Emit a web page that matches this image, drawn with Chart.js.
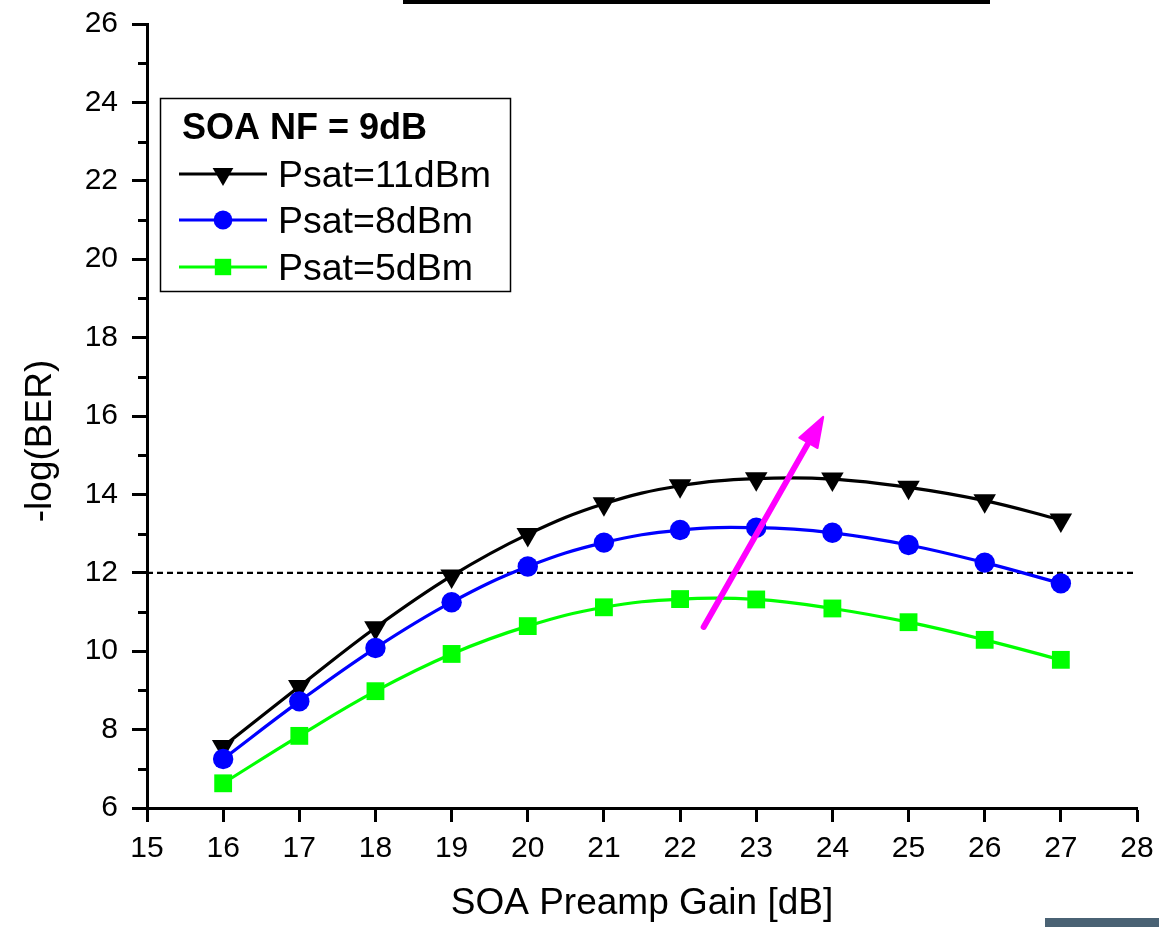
<!DOCTYPE html>
<html>
<head>
<meta charset="utf-8">
<script src="https://cdn.jsdelivr.net/npm/chart.js@4.4.0/dist/chart.umd.min.js"></script>
<style>
  html, body { margin: 0; padding: 0; background: #fff; }
  #wrap { position: relative; width: 1159px; height: 927px; overflow: hidden; }
  canvas { display: block; }
  .top-rule { position: absolute; left: 403px; top: 0; width: 587px; height: 4px; background: #000; }
  .corner-bar { position: absolute; left: 1045px; top: 918px; width: 114px; height: 9px; background: #4a6274; }
</style>
</head>
<body>
<div id="wrap">
  <canvas id="chart" width="1159" height="927"></canvas>
  <div class="top-rule"></div>
  <div class="corner-bar"></div>
</div>
<script>
// SOA preamplifier gain sweep (dB)
const gains = [16, 17, 18, 19, 20, 21, 22, 23, 24, 25, 26, 27];

// -log(BER) for each saturation power
const psat11 = [7.57, 9.10, 10.60, 11.92, 12.98, 13.76, 14.22, 14.40, 14.39, 14.18, 13.84, 13.35];
const psat8  = [7.25, 8.72, 10.08, 11.25, 12.16, 12.77, 13.09, 13.15, 13.02, 12.71, 12.26, 11.73];
const psat5  = [6.63, 7.84, 8.98, 9.93, 10.64, 11.12, 11.33, 11.32, 11.09, 10.74, 10.29, 9.78];

const seriesLabels = ['Psat=11dBm', 'Psat=8dBm', 'Psat=5dBm'];
const legendTitle = 'SOA NF = 9dB';

// FEC threshold reference level
const berThreshold = 12;

// axis ranges and labels
const xRange = [15, 28];
const yRange = [6, 26];
const xTickLabels = [15, 16, 17, 18, 19, 20, 21, 22, 23, 24, 25, 26, 27, 28];
const yTickLabels = [6, 8, 10, 12, 14, 16, 18, 20, 22, 24, 26];
const yMinorTicks = [7, 9, 11, 13, 15, 17, 19, 21, 23, 25];
const xTitle = 'SOA Preamp Gain [dB]';
const yTitle = '-log(BER)';

// trend arrow (in data units: gain, -log(BER))
const arrowStart = [22.31, 10.62];
const arrowEnd = [23.88, 15.98];

const FONT = "'Liberation Sans', Arial, Helvetica, sans-serif";

const toPoints = (ys) => gains.map((g, i) => ({ x: g, y: ys[i] }));

const datasets = [
  {
    label: 'threshold',
    data: [{ x: xRange[0], y: berThreshold }, { x: xRange[1], y: berThreshold }],
    borderColor: '#000',
    borderWidth: 2.2,
    borderDash: [6, 4],
    pointRadius: 0,
    tension: 0,
    order: 10
  },
  {
    label: seriesLabels[0],
    data: toPoints(psat11),
    borderColor: '#000',
    backgroundColor: '#000',
    borderWidth: 3.2,
    pointStyle: 'triangle',
    pointRotation: 180,
    pointRadius: 13,
    pointBorderWidth: 0,
    tension: 0.4,
    order: 3
  },
  {
    label: seriesLabels[1],
    data: toPoints(psat8),
    borderColor: '#0000ff',
    backgroundColor: '#0000ff',
    borderWidth: 3.2,
    pointStyle: 'circle',
    pointRadius: 10.2,
    pointBorderWidth: 0,
    tension: 0.4,
    order: 2
  },
  {
    label: seriesLabels[2],
    data: toPoints(psat5),
    borderColor: '#00ff00',
    backgroundColor: '#00ff00',
    borderWidth: 3.2,
    pointStyle: 'rect',
    pointRadius: 12.6,
    pointBorderWidth: 0,
    tension: 0.4,
    order: 1
  }
];

// minor y ticks, y axis title, trend arrow and the boxed legend
const overlayPlugin = {
  id: 'overlay',
  afterDraw(chart) {
    const { ctx, chartArea, scales } = chart;
    const xs = scales.x, ys = scales.y;

    // minor ticks on the y axis
    ctx.save();
    ctx.strokeStyle = '#000';
    ctx.lineWidth = 3;
    yMinorTicks.forEach(v => {
      const py = Math.round(ys.getPixelForValue(v)) + 0.5;
      ctx.beginPath();
      ctx.moveTo(chartArea.left - 9, py);
      ctx.lineTo(chartArea.left, py);
      ctx.stroke();
    });
    ctx.restore();

    // y axis title
    ctx.save();
    ctx.translate(51, 441);
    ctx.rotate(-Math.PI / 2);
    ctx.font = '37px ' + FONT;
    ctx.fillStyle = '#000';
    ctx.textAlign = 'center';
    ctx.textBaseline = 'alphabetic';
    ctx.fillText(yTitle, 0, 0);
    ctx.restore();

    // magenta arrow
    const x0 = xs.getPixelForValue(arrowStart[0]), y0 = ys.getPixelForValue(arrowStart[1]);
    const x1 = xs.getPixelForValue(arrowEnd[0]), y1 = ys.getPixelForValue(arrowEnd[1]);
    const ang = Math.atan2(y1 - y0, x1 - x0);
    const headLen = 30, headHalf = 10.5;
    const bx = x1 - Math.cos(ang) * headLen, by = y1 - Math.sin(ang) * headLen;
    ctx.save();
    ctx.strokeStyle = '#ff00ff';
    ctx.fillStyle = '#ff00ff';
    ctx.lineWidth = 6;
    ctx.lineCap = 'round';
    ctx.lineJoin = 'round';
    ctx.beginPath();
    ctx.moveTo(x0, y0);
    ctx.lineTo(bx + Math.cos(ang) * 4, by + Math.sin(ang) * 4);
    ctx.stroke();
    ctx.lineWidth = 2;
    ctx.beginPath();
    ctx.moveTo(x1, y1);
    ctx.lineTo(bx - Math.sin(ang) * headHalf, by + Math.cos(ang) * headHalf);
    ctx.lineTo(bx + Math.sin(ang) * headHalf, by - Math.cos(ang) * headHalf);
    ctx.closePath();
    ctx.fill();
    ctx.stroke();
    ctx.restore();

    // legend box
    ctx.save();
    ctx.fillStyle = '#fff';
    ctx.fillRect(161, 99, 349, 192);
    ctx.strokeStyle = '#000';
    ctx.lineWidth = 1.5;
    ctx.strokeRect(160.5, 98.5, 350, 193);
    ctx.fillStyle = '#000';
    ctx.textAlign = 'left';
    ctx.textBaseline = 'alphabetic';
    ctx.font = 'bold 36px ' + FONT;
    ctx.fillText(legendTitle, 182, 139);
    const rows = [174, 220, 267];
    ctx.font = '37.5px ' + FONT;
    [1, 2, 3].forEach((di, r) => {
      const ds = chart.data.datasets[di];
      const cy = rows[r];
      ctx.strokeStyle = ds.borderColor;
      ctx.lineWidth = 3;
      ctx.beginPath();
      ctx.moveTo(179, cy);
      ctx.lineTo(267, cy);
      ctx.stroke();
      ctx.fillStyle = ds.backgroundColor;
      Chart.helpers.drawPoint(ctx, {
        pointStyle: ds.pointStyle,
        rotation: ds.pointRotation || 0,
        radius: ds.pointRadius * 0.92,
        borderWidth: 0
      }, 223, cy);
      ctx.fillStyle = '#000';
      ctx.fillText(ds.label, 278, cy + 13);
    });
    ctx.restore();
  }
};

new Chart(document.getElementById('chart'), {
  type: 'line',
  data: { datasets },
  options: {
    responsive: false,
    animation: false,
    devicePixelRatio: 1,
    events: [],
    layout: { padding: { left: 0, right: 22, top: 24, bottom: 0 } },
    plugins: {
      legend: { display: false },
      tooltip: { enabled: false },
      title: { display: false }
    },
    scales: {
      x: {
        type: 'linear',
        min: xRange[0],
        max: xRange[1],
        afterFit: (s) => { s.height = 119; s.paddingLeft = 0; s.paddingRight = 0; },
        afterBuildTicks: (s) => { s.ticks = xTickLabels.map(v => ({ value: v })); },
        ticks: {
          stepSize: 1,
          autoSkip: false,
          maxRotation: 0,
          padding: 9,
          color: '#000',
          font: { family: FONT, size: 30 }
        },
        grid: {
          drawOnChartArea: false,
          drawTicks: true,
          tickLength: 14,
          tickWidth: 3,
          tickColor: '#000'
        },
        border: { display: true, color: '#000', width: 3 },
        title: {
          display: true,
          text: xTitle,
          color: '#000',
          font: { family: FONT, size: 37 },
          padding: { top: 0, bottom: 1 }
        }
      },
      y: {
        type: 'linear',
        min: yRange[0],
        max: yRange[1],
        afterFit: (s) => { s.width = 147; s.paddingTop = 0; s.paddingBottom = 0; },
        afterBuildTicks: (s) => { s.ticks = yTickLabels.map(v => ({ value: v })); },
        ticks: {
          stepSize: 2,
          autoSkip: false,
          padding: 14,
          color: '#000',
          font: { family: FONT, size: 30 }
        },
        grid: {
          drawOnChartArea: false,
          drawTicks: true,
          tickLength: 15,
          tickWidth: 3,
          tickColor: '#000'
        },
        border: { display: true, color: '#000', width: 3 },
        title: { display: false }
      }
    }
  },
  plugins: [overlayPlugin]
});
</script>
</body>
</html>
